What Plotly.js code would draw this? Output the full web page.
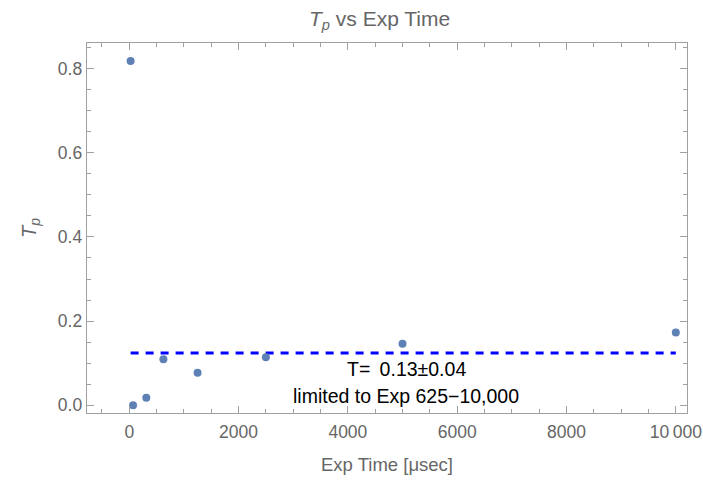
<!DOCTYPE html>
<html>
<head>
<meta charset="utf-8">
<script src="https://cdn.plot.ly/plotly-3.0.1.min.js"></script>
<style>
html,body{margin:0;padding:0;background:#fff;}
#chart{width:703px;height:480px;}
</style>
</head>
<body>
<div id="chart"></div>
<script>
// Data
const expTime = [25, 70, 312, 625, 1250, 2500, 5000, 10000];
const tp      = [0.818, 0.0, 0.018, 0.109, 0.077, 0.114, 0.146, 0.173];
// Fit line (limited to Exp 625-10,000)
const fitX = [25, 10000];
const fitY = [0.124, 0.124];
// Tick labels
const xTickVals = [0, 2000, 4000, 6000, 8000, 10000];
const xTickText = ["0", "2000", "4000", "6000", "8000", "10\u2009000"];
const yTickVals = [0.0, 0.2, 0.4, 0.6, 0.8];
const yTickText = ["0.0", "0.2", "0.4", "0.6", "0.8"];
// Annotation texts
const noteLines = ["T=\u2009 0.13\u00b10.04", "limited to Exp 625\u221210,000"];
const notePos = [[5064, 0.087], [5064, 0.023]];

const frameColor = "#a0a0a0";
const labelColor = "#666666";
const font = "Liberation Sans, Arial, sans-serif";

const traces = [
  {
    x: fitX, y: fitY, type: "scatter", mode: "lines",
    line: {color: "#0000ff", width: 3, dash: "8px,7px"},
    hoverinfo: "skip", showlegend: false
  },
  {
    x: expTime, y: tp, type: "scatter", mode: "markers",
    marker: {color: "#5e81b5", size: 8},
    showlegend: false
  }
];

const axisCommon = {
  showgrid: false, zeroline: false,
  showline: true, linecolor: frameColor, linewidth: 1.3,
  mirror: "ticks", ticks: "inside", ticklen: 7, tickwidth: 1, tickcolor: frameColor,
  tickfont: {family: font, size: 17.5, color: labelColor}
};

const layout = {
  width: 703, height: 480,
  margin: {l: 87, r: 16, t: 43, b: 67},
  paper_bgcolor: "#ffffff", plot_bgcolor: "#ffffff",
  title: {
    text: "<i>T</i><sub><i>p</i></sub> vs Exp Time",
    font: {family: font, size: 21, color: labelColor},
    x: 0.54, xanchor: "center", y: 0.962, yanchor: "middle"
  },
  xaxis: Object.assign({}, axisCommon, {
    range: [-773, 10205],
    tickmode: "array", tickvals: xTickVals, ticktext: xTickText,
    ticklabelstandoff: 3,
    minor: {dtick: 500, tick0: 0, ticks: "inside", ticklen: 4, tickcolor: frameColor, showgrid: false},
    title: {text: "Exp Time [\u03bcsec]", font: {family: font, size: 18.5, color: labelColor}, standoff: 16}
  }),
  yaxis: Object.assign({}, axisCommon, {
    range: [-0.0185, 0.861],
    tickmode: "array", tickvals: yTickVals, ticktext: yTickText,
    minor: {dtick: 0.05, tick0: 0, ticks: "inside", ticklen: 4, tickcolor: frameColor, showgrid: false},
    title: {text: "<i>T</i><sub><i>p</i></sub>", font: {family: font, size: 20, color: labelColor}, standoff: 16}
  }),
  annotations: noteLines.map((t, i) => ({
    text: t, x: notePos[i][0], y: notePos[i][1], xref: "x", yref: "y",
    showarrow: false, xanchor: "center", yanchor: "middle",
    font: {family: font, size: 19.5, color: "#000000"}
  }))
};

Plotly.newPlot("chart", traces, layout, {displayModeBar: false, staticPlot: true});
</script>
</body>
</html>
